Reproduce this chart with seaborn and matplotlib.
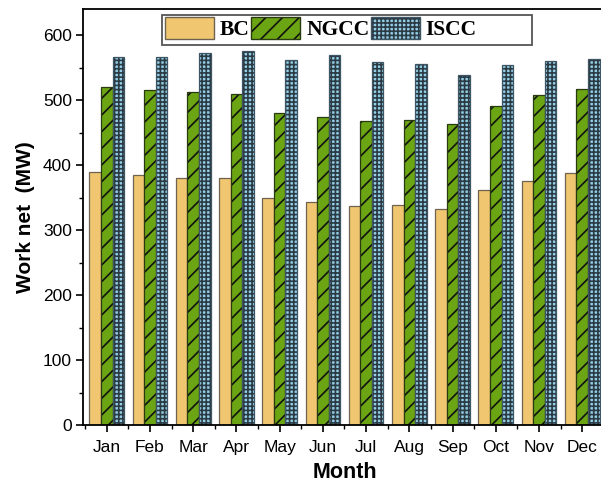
import matplotlib
matplotlib.use("Agg")
import matplotlib.pyplot as plt
from matplotlib.patches import Patch, Rectangle
from matplotlib.ticker import MultipleLocator
import seaborn as sns
import pandas as pd

# Monthly net work output of the three power cycles (MW)
months = ["Jan", "Feb", "Mar", "Apr", "May", "Jun",
          "Jul", "Aug", "Sep", "Oct", "Nov", "Dec"]
cycles = ["BC", "NGCC", "ISCC"]
bc_work = [390, 384, 380, 380, 350, 343, 337, 338, 333, 361, 376, 387]
ngcc_work = [520, 515, 512, 510, 480, 474, 467, 469, 463, 491, 507, 517]
iscc_work = [566, 566, 572, 575, 562, 569, 559, 555, 539, 554, 560, 563]

df = pd.DataFrame({
    "Month": months * 3,
    "Cycle": [c for c in cycles for _ in months],
    "Work": bc_work + ngcc_work + iscc_work,
})

face = {"BC": "#F0C770", "NGCC": "#6BA514", "ISCC": "#93CFE6"}
edge = {"BC": "#6E6250", "NGCC": "#2A3A10", "ISCC": "#3E5563"}
hatch_col = {"BC": "#6E6250", "NGCC": "#111111", "ISCC": "#2C3A44"}
hatch = {"BC": "", "NGCC": "//", "ISCC": "++++"}

sns.set_style("ticks")
plt.rcParams["font.family"] = ["Liberation Sans", "DejaVu Sans"]
plt.rcParams["hatch.linewidth"] = 1.2
plt.rcParams["text.color"] = "black"
plt.rcParams["axes.labelcolor"] = "black"
plt.rcParams["xtick.color"] = "black"
plt.rcParams["ytick.color"] = "black"

fig = plt.figure(figsize=(6.01, 4.91), dpi=100)
ax = fig.add_axes([83 / 601, 66 / 491, 523 / 601, 416 / 491])

sns.barplot(data=df, x="Month", y="Work", hue="Cycle", order=months,
            hue_order=cycles, palette=face, saturation=1, width=0.8,
            gap=0, legend=False, ax=ax)

for cont, cyc in zip(ax.containers, cycles):
    for bar in cont:
        bar.set_edgecolor(edge[cyc])
        bar.set_linewidth(0.9)
        bar.set_hatch(hatch[cyc])
        bar._hatch_color = matplotlib.colors.to_rgba(hatch_col[cyc])

ax.set_xlim(-0.55, 11.55)
ax.set_ylim(0, 640)
ax.yaxis.set_major_locator(MultipleLocator(100))
ax.yaxis.set_minor_locator(MultipleLocator(50))
ax.set_xticks(range(len(months)))
ax.set_xticks([i + 0.5 for i in range(-1, len(months))], minor=True)

for side in ["left", "bottom", "top", "right"]:
    ax.spines[side].set_visible(True)
    ax.spines[side].set_linewidth(1.3)
    ax.spines[side].set_color("black")

ax.tick_params(axis="both", which="major", direction="out", length=5,
               width=1.2, labelsize=12.5, colors="black", pad=6)
ax.tick_params(axis="both", which="minor", direction="out", length=3,
               width=1.0)
ax.tick_params(axis="y", pad=3)

ax.set_xlabel("Month", fontsize=15.5, fontweight="bold", labelpad=5)
ax.set_ylabel("Work net  (MW)", fontsize=15, fontweight="bold", labelpad=6)

# Legend entries in one row, with a wide rectangular frame behind them
handles = []
for cyc in cycles:
    p = Patch(facecolor=face[cyc], edgecolor=edge[cyc], hatch=hatch[cyc],
              linewidth=1.0, label=cyc)
    p._hatch_color = matplotlib.colors.to_rgba(hatch_col[cyc])
    handles.append(p)

W, H = 601, 491
fig.patches.append(Rectangle((162 / W, (H - 45) / H), 370 / W, 30 / H,
                             transform=fig.transFigure, facecolor="white",
                             edgecolor="#555555", linewidth=1.3, zorder=5))
leg = fig.legend(handles=handles, ncol=3, loc="upper left",
                 bbox_to_anchor=(165 / W, (H - 17) / H),
                 bbox_transform=fig.transFigure, frameon=False,
                 prop={"family": "Liberation Serif", "weight": "bold",
                       "size": 15.5},
                 handlelength=2.28, handleheight=1.16, handletextpad=0.28,
                 columnspacing=0.05, borderpad=0, borderaxespad=0)
leg.set_zorder(6)

fig.savefig("out.png", dpi=100)
